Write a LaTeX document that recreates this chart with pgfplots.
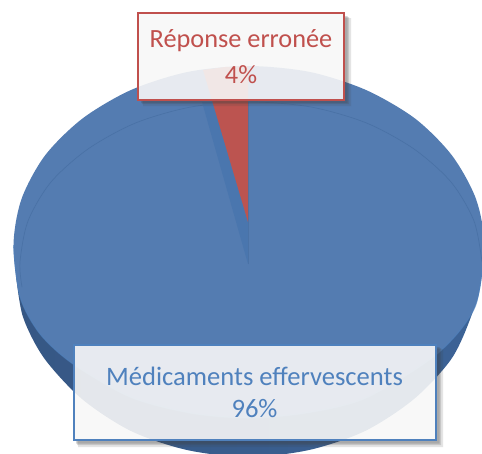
\documentclass[border=0pt]{standalone}
\usepackage{pgfplots}
\pgfplotsset{compat=1.18}
\usepackage{fontspec}
\setmainfont{Carlito}
\definecolor{faceblue}{HTML}{547CB1}
\definecolor{rimblue}{HTML}{4F81BD}
\definecolor{bevelblue}{HTML}{4A72A6}
\definecolor{notchblue}{HTML}{4A76AE}
\definecolor{wallleft}{HTML}{365784}
\definecolor{wallmid}{HTML}{426899}
\definecolor{wallright}{HTML}{3C6396}
\definecolor{sliceface}{HTML}{BC5450}
\definecolor{labelred}{HTML}{C0504D}
\definecolor{labelblue}{HTML}{4F81BD}
\definecolor{labelfill}{HTML}{F7F7F7}
\definecolor{shadowgrey}{HTML}{404040}
\begin{document}
\begin{tikzpicture}
\path[clip, use as bounding box] (0,0) rectangle (482pt,453pt);
\begin{axis}[
  scale only axis, width=482pt, height=453pt,
  xmin=0, xmax=482, ymin=0, ymax=453, y dir=reverse,
  hide axis, clip=false,
]
% side wall of the disc
\addplot[draw=none, left color=wallleft, middle color=wallmid, right color=wallright, smooth] coordinates {
 (16,275) (23,317) (44,358) (82,399) (131,431) (187,450) (248,457)
 (309,450) (365,431) (414,399) (452,358) (473,311) (482,270)} -- cycle;
% top face of the disc
\addplot[draw=none, fill=faceblue, smooth cycle] coordinates {
 (484,245) (475,307) (437,354) (366,398) (306,413) (248,418)
 (190,413) (130,397) (73,364) (40,334) (20,297) (13.5,245)
 (21.5,199) (45,155.5) (82.5,118.5) (131,90) (187.5,72) (248.5,66)
 (310,72) (366,90) (415,118.5) (452,155.5) (476,199)};
% lit rim along the near edge of the face
\addplot[rimblue, line width=1pt, smooth, opacity=.6] coordinates {
 (13.5,245) (20,297) (40,334) (73,364) (130,397) (190,413) (248,418)
 (306,413) (366,398) (437,354) (475,307) (484,245)};
% inner bevel line
\addplot[bevelblue, line width=.7pt, smooth] coordinates {
 (22,287) (20,262) (28,221) (51,182) (88,149) (135.5,123) (191,107) (251,102)
 (311,107) (366.5,123) (414,149) (451,182) (474,221) (482,262)};
% notch left by the 4% slice
\addplot[draw=none, fill=notchblue] coordinates {(248,264) (202,102) (213,102) (248,222)} -- cycle;
\addplot[bevelblue, line width=.6pt] coordinates {(248,102) (248,264)};
% the 4% slice
\addplot[draw=none, fill=sliceface] coordinates {(248,222) (203,70) (225,67) (248,66)} -- cycle;
% callout of the 4% slice: soft shadow round the lower right, box, text
\addplot[draw=none, fill=shadowgrey, fill opacity=.14] coordinates {(345,18) (351,18) (351,106) (143,106) (143,101) (345,101)} -- cycle;
\addplot[draw=none, fill=shadowgrey, fill opacity=.18] coordinates {(345,17) (349,17) (349,104) (142,104) (142,101) (345,101)} -- cycle;
\addplot[draw=none, fill=shadowgrey, fill opacity=.22] coordinates {(345,16) (347.5,16) (347.5,103) (141,103) (141,101) (345,101)} -- cycle;
\addplot[draw=none, fill=labelfill, fill opacity=.9] coordinates {(138,13) (344,13) (344,100) (138,100)} -- cycle;
\addplot[draw=labelred, line width=2.4pt, fill=none] coordinates {(138,13) (344,13) (344,100) (138,100)} -- cycle;
\node[text=labelred, font=\fontsize{26.3}{26.3}\selectfont] at (axis cs:241,41) {Réponse erronée};
\node[text=labelred, font=\fontsize{26.3}{26.3}\selectfont] at (axis cs:241,74.5) {4\%};
% callout of the 96% slice
\addplot[draw=none, fill=shadowgrey, fill opacity=.14] coordinates {(437,349) (443,349) (443,447) (78,447) (78,441) (437,441)} -- cycle;
\addplot[draw=none, fill=shadowgrey, fill opacity=.18] coordinates {(437,348) (441,348) (441,445) (77,445) (77,441) (437,441)} -- cycle;
\addplot[draw=none, fill=shadowgrey, fill opacity=.22] coordinates {(437,347) (439.5,347) (439.5,443.5) (76,443.5) (76,441) (437,441)} -- cycle;
\addplot[draw=none, fill=labelfill, fill opacity=.9] coordinates {(73.5,344.5) (436,344.5) (436,439.5) (73.5,439.5)} -- cycle;
\addplot[draw=labelblue, line width=2pt, fill=none] coordinates {(73.5,344.5) (436,344.5) (436,439.5) (73.5,439.5)} -- cycle;
\node[text=labelblue, font=\fontsize{26.6}{26.6}\selectfont] at (axis cs:254.5,376) {Médicaments effervescents};
\node[text=labelblue, font=\fontsize{26.6}{26.6}\selectfont] at (axis cs:254.5,409) {96\%};
\end{axis}
\end{tikzpicture}
\end{document}
